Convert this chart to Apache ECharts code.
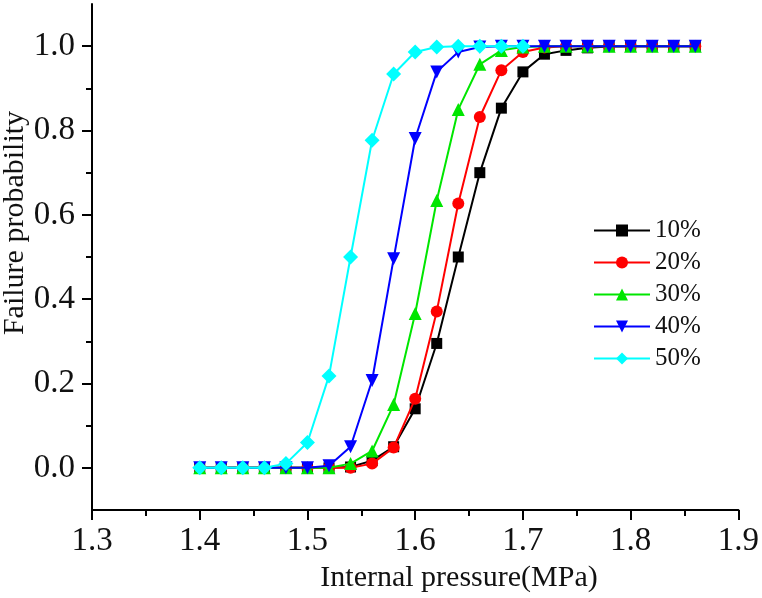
<!DOCTYPE html>
<html>
<head>
<meta charset="utf-8">
<script src="https://cdn.jsdelivr.net/npm/echarts@6/dist/echarts.min.js"></script>
<style>html,body{margin:0;padding:0;background:#fff}#c{width:762px;height:598px}</style>
</head>
<body>
<div id="c"></div>
<script>
var pressure = [1.40,1.42,1.44,1.46,1.48,1.50,1.52,1.54,1.56,1.58,1.60,1.62,1.64,1.66,1.68,1.70,1.72,1.74,1.76,1.78,1.80,1.82,1.84,1.86];
var p10 = [0,0,0,0,0,0,0,0.002,0.017,0.05,0.14,0.295,0.50,0.70,0.853,0.939,0.981,0.99,0.996,0.999,1,1,1,1];
var p20 = [0,0,0,0,0,0,0,0,0.01,0.048,0.164,0.371,0.627,0.832,0.943,0.986,0.997,1,1,1,1,1,1,1];
var p30 = [0,0,0,0,0,0,0,0.01,0.04,0.15,0.366,0.634,0.85,0.957,0.99,0.998,1,1,1,1,1,1,1,1];
var p40 = [0,0,0,0,0,0,0.005,0.05,0.207,0.496,0.781,0.939,0.986,0.998,1,1,1,1,1,1,1,1,1,1];
var p50 = [0,0,0,0,0.01,0.06,0.218,0.50,0.777,0.934,0.986,0.998,1,1,1,1];
var seriesNames = ['10%','20%','30%','40%','50%'];
var yMajor = [0,0.2,0.4,0.6,0.8,1.0];
var yMinor = [0.1,0.3,0.5,0.7,0.9];
var xTitle = 'Internal pressure(MPa)';
var yTitle = 'Failure probability';

function pairs(v){ return v.map(function(y,i){ return [pressure[i], y]; }); }
var FONT = 'Liberation Serif';
var chart = echarts.init(document.getElementById('c'), null, {renderer:'canvas'});
var colors = ['#000000','#ff0000','#00e600','#0000ff','#00ffff'];
var symbols = ['rect','circle','triangle','path://M0,0 L10,0 L5,9 Z','diamond'];
var sizes = [11,12,13,13,15];
var vals = [p10,p20,p30,p40,p50];
var series = vals.map(function(v,i){
  return {
    name: seriesNames[i], type:'line', data: pairs(v),
    symbol: symbols[i], symbolSize: sizes[i], showAllSymbol:true,
    lineStyle:{color:colors[i], width:2},
    itemStyle:{color:colors[i]},
    z: 2+i
  };
});
chart.setOption({
  animation:false,
  backgroundColor:'#fff',
  grid:{left:92, right:23, top:4, bottom:88, containLabel:false},
  legend:{
    orient:'vertical', left:588, top:213, itemWidth:56, itemHeight:15, itemGap:7,
    textStyle:{fontFamily:FONT, fontSize:25, color:'#111', lineHeight:25},
    data: seriesNames
  },
  xAxis:{
    type:'value', min:1.3, max:1.9, interval:0.1,
    axisLine:{onZero:false, lineStyle:{color:'#000', width:2}},
    axisTick:{length:10, lineStyle:{color:'#000', width:2}},
    minorTick:{show:true, splitNumber:2, length:6, lineStyle:{color:'#000', width:2}},
    splitLine:{show:false},
    axisLabel:{fontFamily:FONT, fontSize:33, color:'#111', margin:15,
      formatter:function(v){return v.toFixed(1);}}
  },
  yAxis:[{
    type:'value', min:-0.1, max:1.1, position:'left',
    axisLine:{show:true, onZero:false, lineStyle:{color:'#000', width:2}},
    axisTick:{show:true, length:10, customValues: yMajor, lineStyle:{color:'#000', width:2}},
    splitLine:{show:false},
    axisLabel:{fontFamily:FONT, fontSize:33, color:'#111', margin:17, customValues: yMajor,
      formatter:function(v){return v.toFixed(1);}}
  },{
    type:'value', min:-0.1, max:1.1, position:'left', offset:0,
    axisLine:{show:false, onZero:false},
    axisTick:{show:true, length:6, customValues: yMinor, lineStyle:{color:'#000', width:2}},
    splitLine:{show:false},
    axisLabel:{show:false}
  }],
  graphic:[
    {type:'text', x:459, y:578, style:{text:xTitle, font:'30px "Liberation Serif"', fill:'#111', textAlign:'center', textVerticalAlign:'middle'}},
    {type:'text', x:15, y:223, rotation:Math.PI/2, style:{text:yTitle, font:'30px "Liberation Serif"', fill:'#111', textAlign:'center', textVerticalAlign:'middle'}}
  ],
  series: series
});
</script>
</body>
</html>
